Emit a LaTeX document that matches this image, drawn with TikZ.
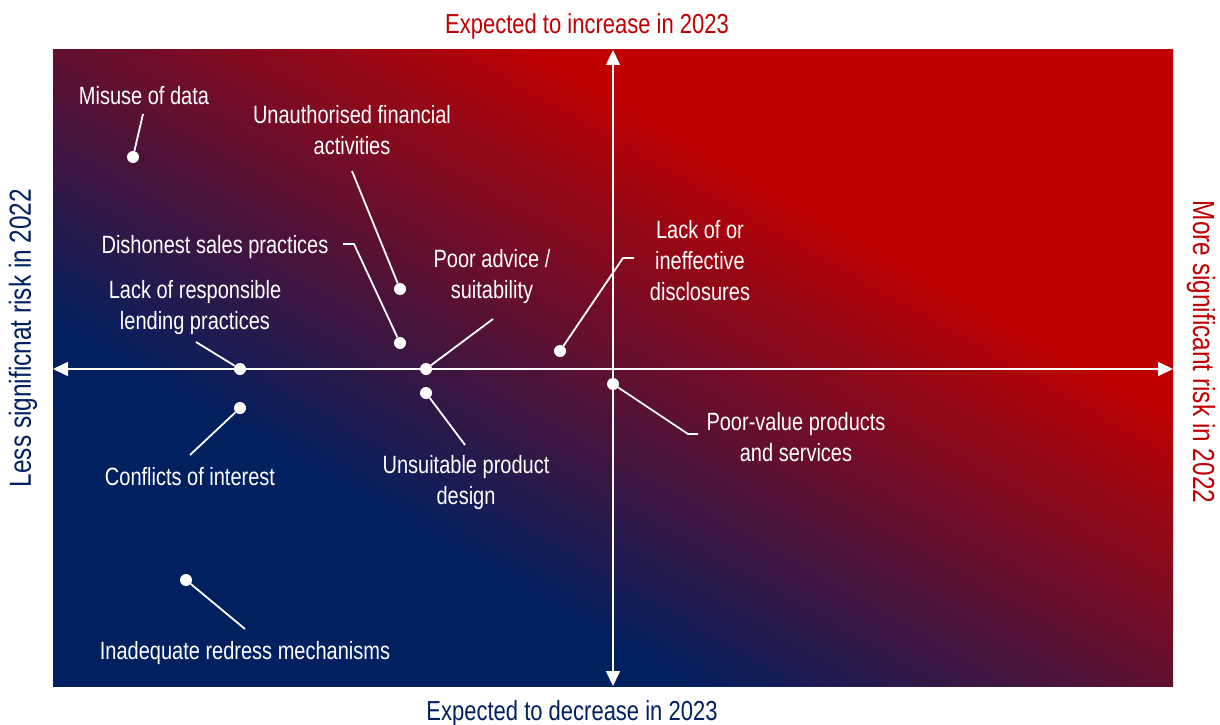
\documentclass[tikz,border=0pt]{standalone}
\usepackage{fontspec}
\setmainfont{Liberation Sans}[FakeStretch=0.80]
\usetikzlibrary{arrows.meta}
\definecolor{qred}{HTML}{C00000}
\definecolor{qblue}{HTML}{002060}
\pgfdeclareverticalshading{quadshade}{100bp}{color(0bp)=(qblue); color(35bp)=(qblue); color(65bp)=(qred); color(100bp)=(qred)}
\tikzset{
  dot/.style={circle, fill=white, inner sep=0pt, minimum size=12pt},
  lbl/.style={text=white, font=\fontsize{25}{31}\selectfont, align=center, inner sep=0pt},
  ax/.style={white, line width=1.6pt, -{Triangle[length=15pt,width=14pt]}},
  conn/.style={white, line width=1.8pt},
  edgeh/.style={font=\fontsize{27.5}{30}\selectfont, inner sep=0pt},
  edgev/.style={font=\fontsize{30.5}{33}\selectfont, inner sep=0pt}
}
\begin{document}
\begin{tikzpicture}[x=1pt,y=-1pt]
\useasboundingbox (0,0) rectangle (1220,725);
\path[shading=quadshade, shading angle=-29.6] (53,50) rectangle (1173,686);
% axes
\coordinate (c) at (613,369);
\coordinate (L) at (53,369);
\coordinate (R) at (1173,369);
\coordinate (T) at (613,50);
\coordinate (B) at (613,686);
\draw[ax] (c) -- (L);
\draw[ax] (c) -- (R);
\draw[ax] (c) -- (T);
\draw[ax] (c) -- (B);
% axis labels
\node[edgeh, text=qred] (top) at (587,26) {Expected to increase in 2023};
\node[edgeh, text=qblue] (bot) at (572,713) {Expected to decrease in 2023};
\node[edgev, text=qblue, rotate=90] (left) at (23,338) {Less significnat risk in 2022};
\node[edgev, text=qred, rotate=-90] (right) at (1201,352) {More significant risk in 2022};
% dots
\node[dot] (d1) at (133,157) {};
\node[dot] (d2) at (400,289) {};
\node[dot] (d3) at (400,343) {};
\node[dot] (d4) at (240,369) {};
\node[dot] (d5) at (426,369) {};
\node[dot] (d6) at (560,351) {};
\node[dot] (d7) at (240,408) {};
\node[dot] (d8) at (426,393) {};
\node[dot] (d9) at (613,384) {};
\node[dot] (d10) at (186,580) {};
% labels
\node[lbl] (l1) at (144,96) {Misuse of data};
\node[lbl] (l2) at (352,130) {Unauthorised financial\\activities};
\node[lbl] (l3) at (215,247) {Dishonest sales practices};
\node[lbl] (l4) at (195,308) {Lack of responsible\\lending practices};
\node[lbl] (l5) at (492,277) {Poor advice /\\suitability};
\node[lbl] (l6) at (700,261) {Lack of or\\ineffective\\disclosures};
\node[lbl] (l7) at (190,477) {Conflicts of interest};
\node[lbl] (l8) at (466,483) {Unsuitable product\\design};
\node[lbl] (l9) at (796,437) {Poor-value products\\and services};
\node[lbl] (l10) at (245,653) {Inadequate redress mechanisms};
% connectors
\coordinate (e1) at (143,114);
\coordinate (e2) at (352,171);
\coordinate (e3a) at (343,244);
\coordinate (e3b) at (354,244);
\coordinate (e4) at (196,342);
\coordinate (e5) at (493,319);
\coordinate (e6a) at (634,258);
\coordinate (e6b) at (623,258);
\coordinate (e7) at (190,455);
\coordinate (e8) at (465,445);
\coordinate (e9a) at (698,434);
\coordinate (e9b) at (688,434);
\coordinate (e10) at (245,629);
\draw[conn] (e1) -- (d1);
\draw[conn] (e2) -- (d2);
\draw[conn] (e3a) -- (e3b) -- (d3);
\draw[conn] (e4) -- (d4);
\draw[conn] (e5) -- (d5);
\draw[conn] (e6a) -- (e6b) -- (d6);
\draw[conn] (e7) -- (d7);
\draw[conn] (e8) -- (d8);
\draw[conn] (e9a) -- (e9b) -- (d9);
\draw[conn] (e10) -- (d10);
\end{tikzpicture}
\end{document}
